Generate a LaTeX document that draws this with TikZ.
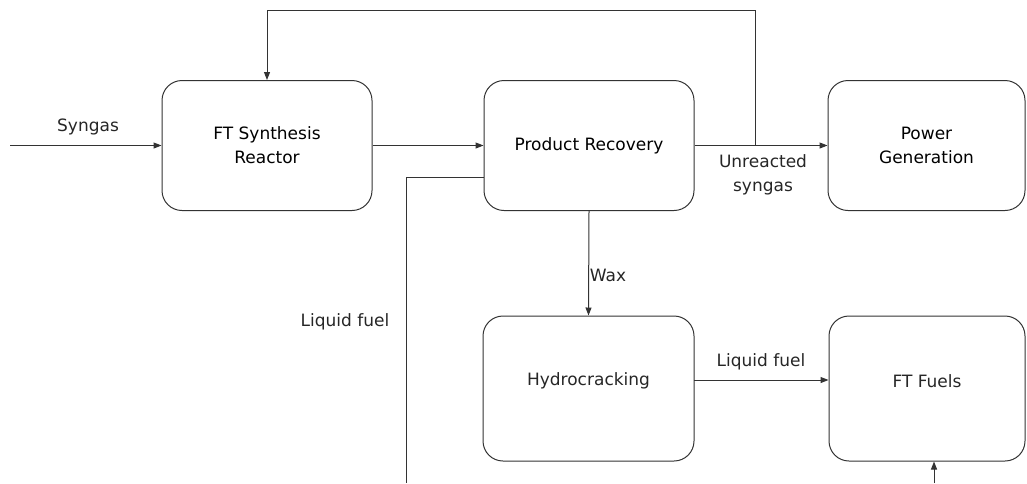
\documentclass[tikz,border=0pt]{standalone}
\usepackage{fontspec}
\setmainfont{DejaVu Sans}
\usetikzlibrary{arrows.meta,calc}

\tikzset{
  proc/.style={draw=black!80, line width=1pt, rounded corners=20pt,
    inner sep=0pt, align=center, font=\fontsize{17}{24}\selectfont},
  lbl/.style={inner sep=0pt, align=center, font=\fontsize{17}{24}\selectfont, text=black!85},
  flow/.style={draw=black!80, line width=1pt},
  arr/.style={flow, -{Triangle[length=8pt,width=6pt]}}
}

\begin{document}
\begin{tikzpicture}[x=1pt,y=-1pt]
  \useasboundingbox (0,0) rectangle (1027,483);

  % process units
  \node[proc, minimum width=210pt, minimum height=130pt] (ft) at (267,145.5) {FT Synthesis\\Reactor};
  \node[proc, minimum width=210pt, minimum height=130pt] (pr) at (589,145.5) {Product Recovery};
  \node[proc, minimum width=197pt, minimum height=130pt] (pg) at (926.5,145.5) {Power\\Generation};
  \node[proc, minimum width=211pt, minimum height=145pt] (hc) at (588.5,388.5) {};
  \node[proc, minimum width=196pt, minimum height=145pt] (ff) at (927,388.5) {};
  \node[lbl] (hct) at (588.5,381) {Hydrocracking};
  \node[lbl] (fft) at (927,381) {FT Fuels};

  % stream labels
  \node[lbl] (lsyn) at (88,127) {Syngas};
  \node[lbl] (lunr) at (763,175) {Unreacted\\syngas};
  \node[lbl] (lwax) at (608,275) {Wax};
  \node[lbl] (lliq1) at (345,322) {Liquid fuel};
  \node[lbl] (lliq2) at (761,362) {Liquid fuel};

  % helper points for free ends and bends
  \coordinate (feed) at (10,145.5);
  \coordinate (tap) at (755,145.5);
  \coordinate (topR) at (755,10);
  \coordinate (liqOut) at (484,177.7);
  \coordinate (liqBend) at (406,177.7);
  \coordinate (liqEnd) at (406,483);
  \coordinate (ffIn) at (934,483);
  \coordinate (hcOut) at (694,380);

  % streams
  \draw[arr] (feed) -- (ft.west);
  \draw[arr] (ft.east) -- (pr.west);
  \draw[arr] (pr.east) -- (pg.west);
  \draw[arr] (tap) -- (topR) -| (ft.north);
  \draw[flow] (liqOut) -- (liqBend) -- (liqEnd);
  \draw[arr] (pr.south) -- (hc.north);
  \draw[arr] (hcOut) -- (hcOut -| ff.west);
  \draw[arr] (ffIn) -- (ffIn |- ff.south);
\end{tikzpicture}
\end{document}
